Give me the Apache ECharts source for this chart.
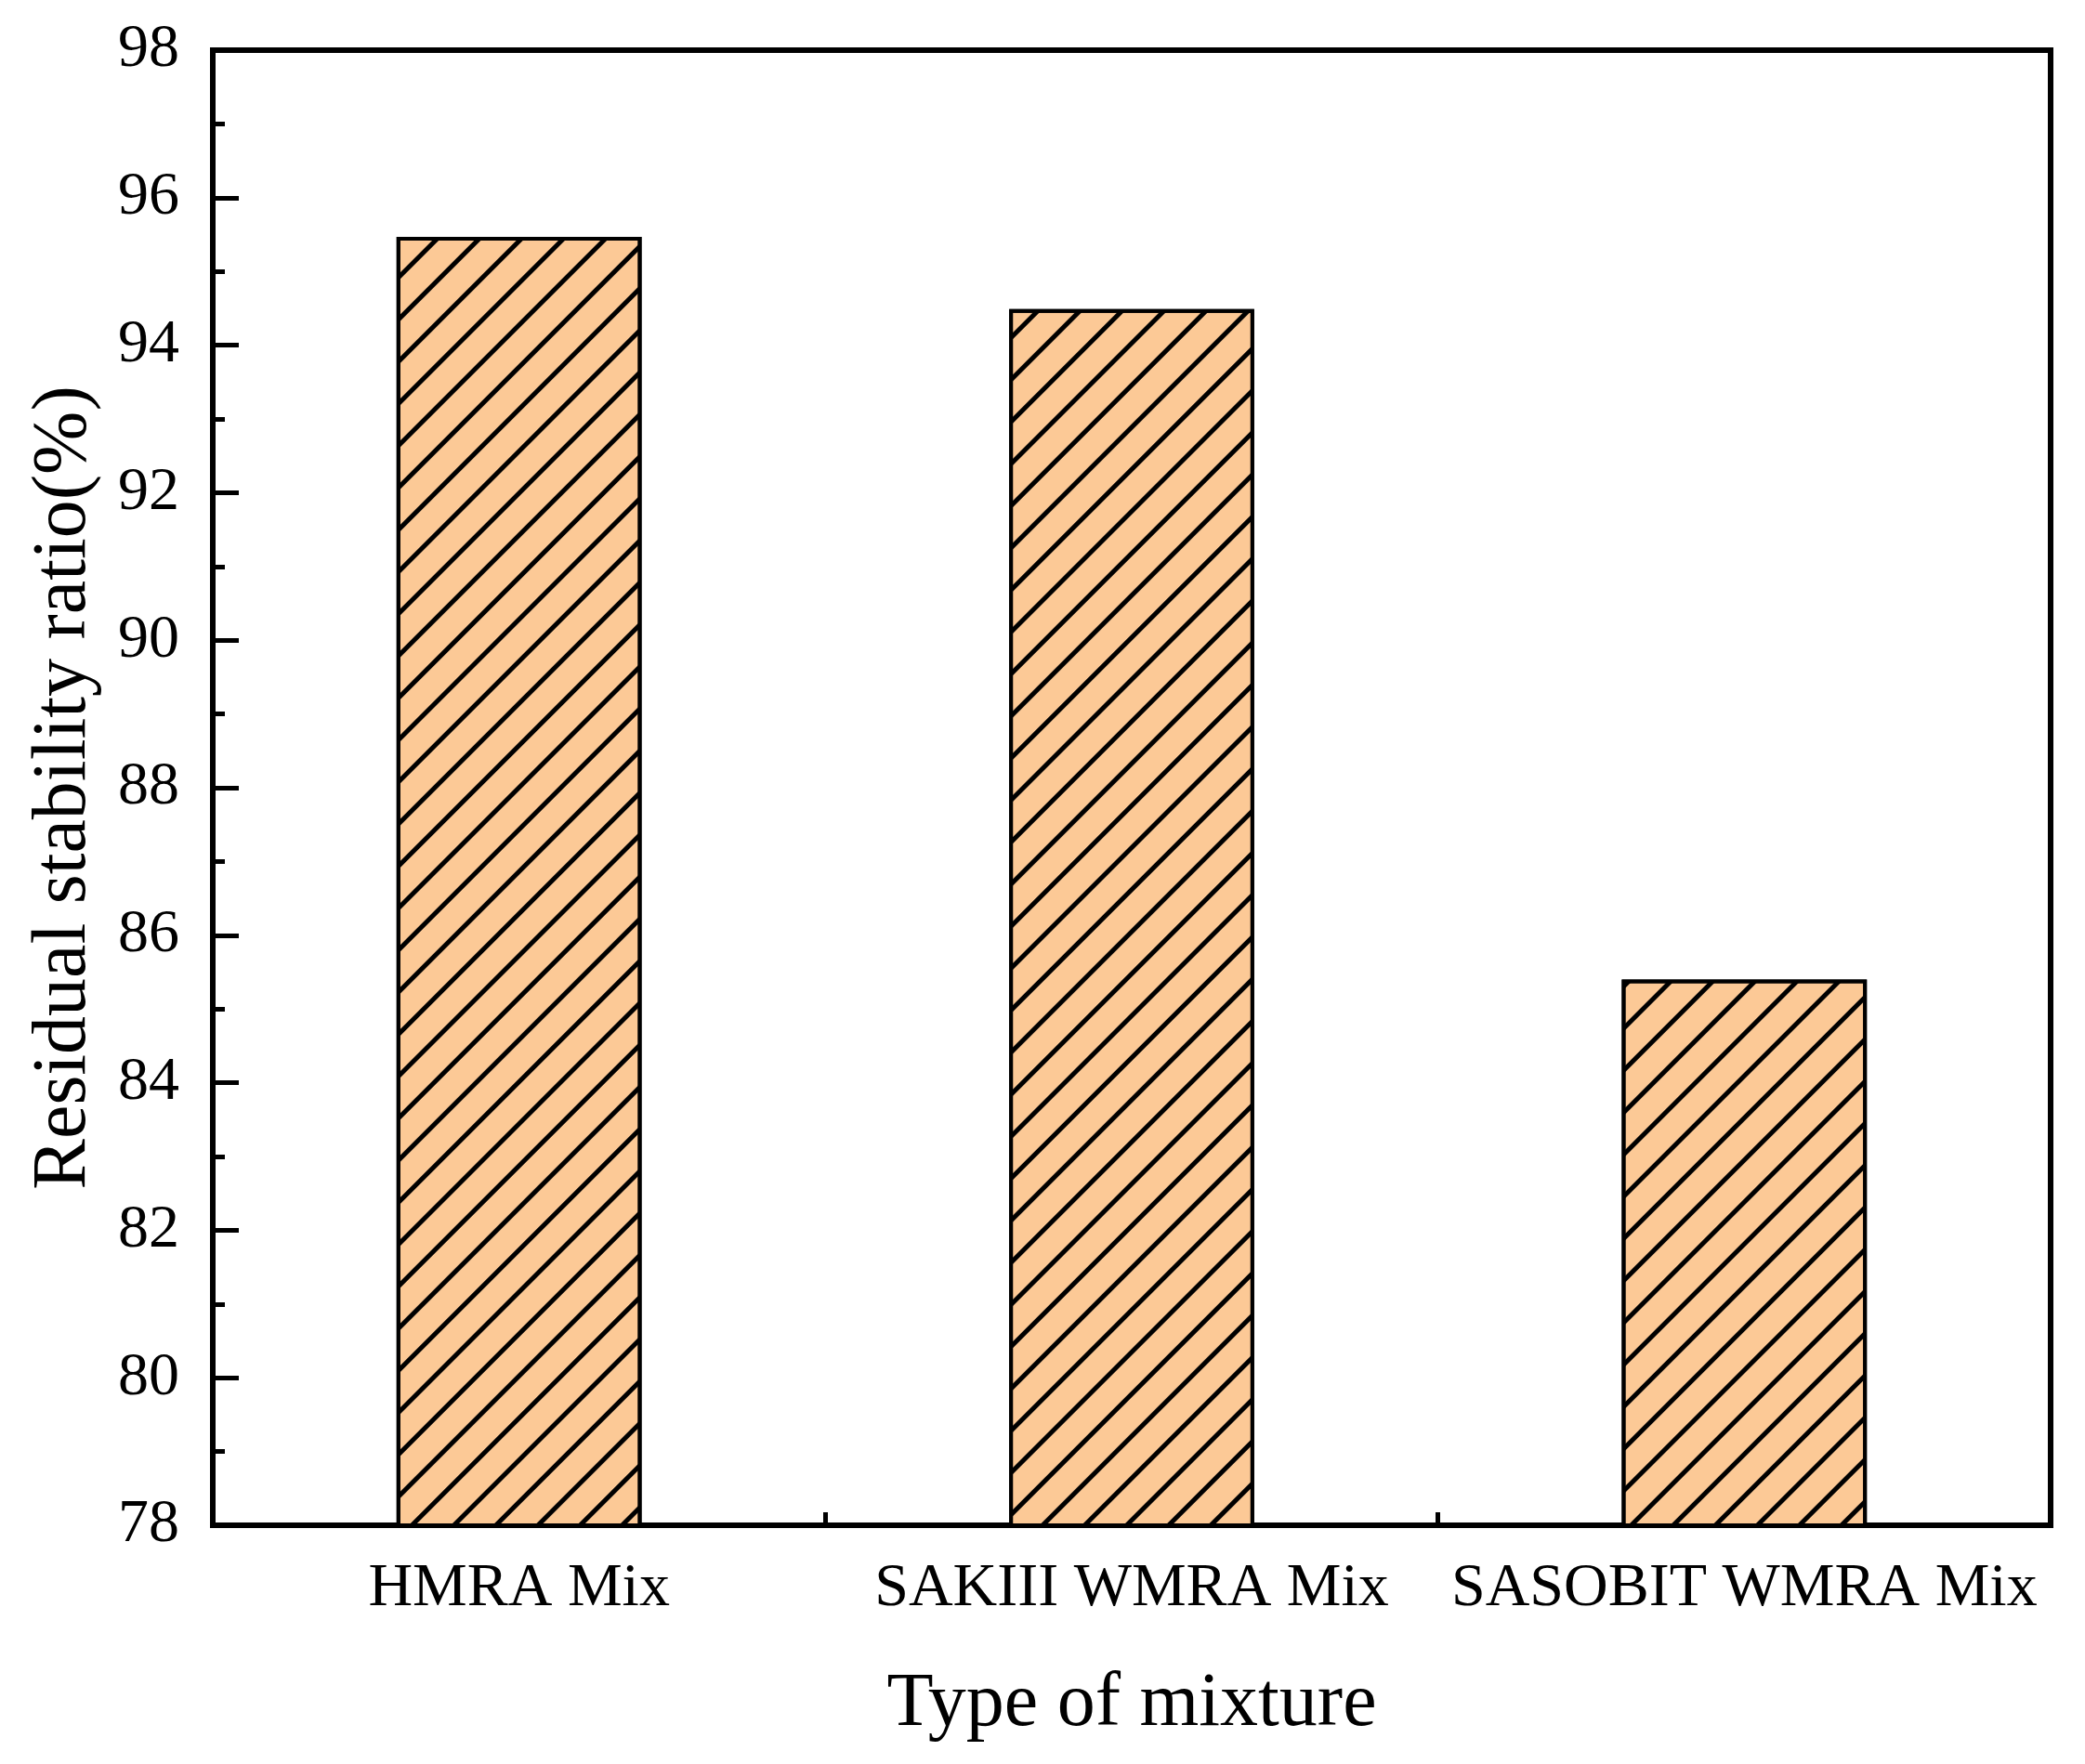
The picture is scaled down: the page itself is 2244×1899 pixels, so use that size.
<!DOCTYPE html>
<html>
<head>
<meta charset="utf-8">
<script src="https://cdn.jsdelivr.net/npm/echarts@6/dist/echarts.min.js"></script>
<style>
html,body{margin:0;padding:0;background:#fff;}
#chart{width:2244px;height:1899px;}
</style>
</head>
<body>
<div id="chart"></div>
<script>
const categories = ['HMRA Mix', 'SAKIII WMRA Mix', 'SASOBIT WMRA Mix'];
const residualStability = [95.47, 94.49, 85.40];
const yMin = 78, yMax = 98, yInterval = 2;
const yAxisTitle = 'Residual stability ratio(%)';
const xAxisTitle = 'Type of mixture';

const FONT = "'Liberation Serif', 'Times New Roman', serif";
const chart = echarts.init(document.getElementById('chart'), null, {renderer: 'canvas'});
chart.setOption({
  animation: false,
  backgroundColor: '#ffffff',
  grid: {left: 229, right: 37, top: 54, bottom: 257, show: true, borderColor: '#000', borderWidth: 6, backgroundColor: 'transparent'},
  xAxis: [{
    type: 'category',
    data: categories,
    position: 'bottom',
    name: xAxisTitle,
    nameLocation: 'middle',
    nameGap: 152,
    nameTextStyle: {fontFamily: FONT, fontSize: 82, color: '#000'},
    axisLine: {show: true, lineStyle: {color: '#000', width: 6}},
    axisTick: {show: true, inside: true, alignWithLabel: true, length: 30, lineStyle: {color: '#000', width: 5}},
    axisLabel: {fontFamily: FONT, fontSize: 66, color: '#000', margin: 36, interval: 0, hideOverlap: false},
    splitLine: {show: false}
  }, {
    type: 'category',
    data: categories,
    position: 'bottom',
    axisLine: {show: false},
    axisTick: {show: true, inside: true, length: 14, interval: 0, lineStyle: {color: '#000', width: 5}},
    axisLabel: {show: false},
    splitLine: {show: false}
  }],
  yAxis: {
    type: 'value',
    min: yMin, max: yMax, interval: yInterval,
    name: yAxisTitle,
    nameLocation: 'middle',
    nameGap: 119,
    nameTextStyle: {fontFamily: FONT, fontSize: 82, color: '#000'},
    axisLine: {show: true, lineStyle: {color: '#000', width: 6}},
    axisTick: {show: true, inside: true, length: 28, lineStyle: {color: '#000', width: 5}},
    minorTick: {show: true, splitNumber: 2, length: 13, lineStyle: {color: '#000', width: 5}},
    axisLabel: {fontFamily: FONT, fontSize: 66, color: '#000', margin: 36},
    splitLine: {show: false}
  },
  series: [{
    type: 'bar',
    data: residualStability,
    barWidth: '40%',
    itemStyle: {
      color: '#FCC996',
      borderColor: '#000',
      borderWidth: 4,
      decal: {
        symbol: 'rect',
        symbolSize: 1,
        color: '#000',
        dashArrayX: [1, 0],
        dashArrayY: [5, 27],
        rotation: -Math.PI / 4
      }
    },
    emphasis: {disabled: true}
  }]
});
</script>
</body>
</html>
